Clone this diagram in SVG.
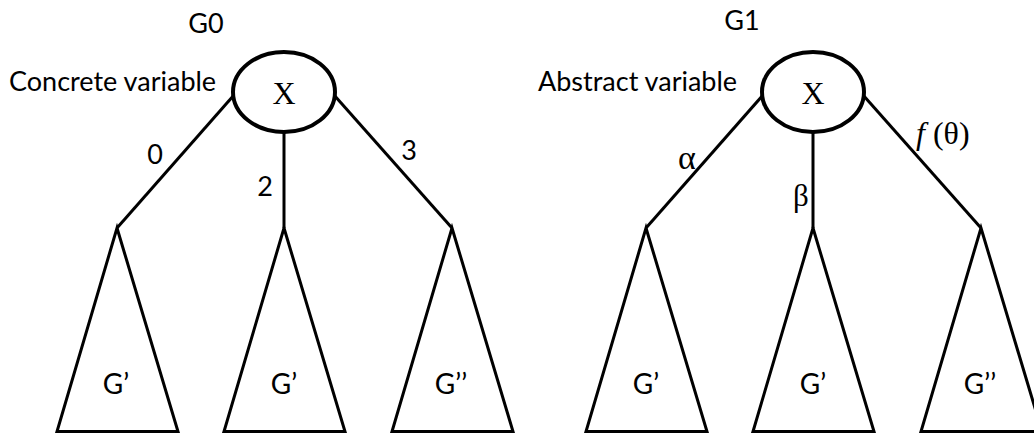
<svg xmlns="http://www.w3.org/2000/svg" width="1034" height="435" viewBox="0 0 1034 435">
<style>
.sans{font-family:Lato,"Open Sans","Liberation Sans",sans-serif;font-size:27px;fill:#000}
.sub{font-size:28px}
.serif{font-family:"Liberation Serif","DejaVu Serif",serif;fill:#000}
.edge{stroke:#000;stroke-width:3;fill:none}
.var{stroke:#000;stroke-width:4;fill:#fff}
.tri{stroke:#000;stroke-width:3;fill:none;stroke-linejoin:miter}
</style>
<rect width="1034" height="435" fill="#fff"/>
<g id="connectors">
<line class="edge" x1="234" y1="95" x2="117" y2="228"/>
<line class="edge" x1="284" y1="132" x2="284" y2="228"/>
<line class="edge" x1="334" y1="95" x2="452" y2="228"/>
<line class="edge" x1="763" y1="95" x2="646" y2="228"/>
<line class="edge" x1="813" y1="132" x2="813" y2="228"/>
<line class="edge" x1="863" y1="95" x2="981" y2="228"/>
</g>
<g id="edge-labels">
<text class="sans" x="155" y="164" text-anchor="middle">0</text>
<text class="sans" x="265" y="196" text-anchor="middle">2</text>
<text class="sans" x="409" y="160" text-anchor="middle">3</text>
<text class="serif" x="687" y="169" font-size="34" text-anchor="middle">α</text>
<text class="serif" x="801" y="206" font-size="31" text-anchor="middle">β</text>
<text class="serif" x="916" y="144" font-size="32"><tspan font-style="italic">f</tspan> (θ)</text>
</g>
<g id="G0">
<text class="sans" x="206" y="33" text-anchor="middle">G0</text>
<text class="sans" x="9" y="91">Concrete variable</text>
<ellipse class="var" cx="284" cy="92" rx="51" ry="40"/>
<text class="serif" x="284" y="104" font-size="32" text-anchor="middle">X</text>
</g>
<g id="G1">
<text class="sans" x="742" y="30" text-anchor="middle">G1</text>
<text class="sans" x="538" y="91">Abstract variable</text>
<ellipse class="var" cx="813" cy="92" rx="51" ry="40"/>
<text class="serif" x="813" y="104" font-size="32" text-anchor="middle">X</text>
</g>
<g id="G0-sub1"><polygon class="tri" points="117,228 178,431.5 57,431.5"/><text class="sans sub" x="116" y="394" text-anchor="middle">G’</text></g>
<g id="G0-sub2"><polygon class="tri" points="284,228 345,431.5 224,431.5"/><text class="sans sub" x="284" y="394" text-anchor="middle">G’</text></g>
<g id="G0-sub3"><polygon class="tri" points="452,228 513,431.5 392,431.5"/><text class="sans sub" x="451" y="394" text-anchor="middle">G’’</text></g>
<g id="G1-sub1"><polygon class="tri" points="646,228 707,431.5 586,431.5"/><text class="sans sub" x="646" y="394" text-anchor="middle">G’</text></g>
<g id="G1-sub2"><polygon class="tri" points="813,228 874,431.5 753,431.5"/><text class="sans sub" x="813" y="394" text-anchor="middle">G’</text></g>
<g id="G1-sub3"><polygon class="tri" points="981,228 1042,431.5 921,431.5"/><text class="sans sub" x="980" y="394" text-anchor="middle">G’’</text></g>
</svg>
